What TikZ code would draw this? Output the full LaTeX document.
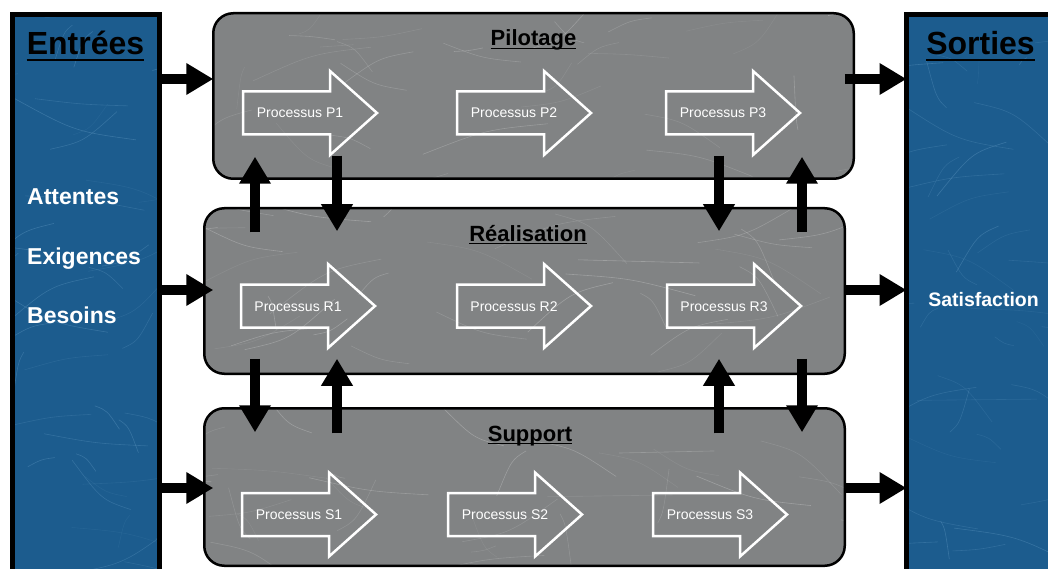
\documentclass[tikz,border=0pt]{standalone}
\usepackage{fontspec}
\setmainfont{Liberation Sans}
\usetikzlibrary{arrows.meta,calc}

\definecolor{panelblue}{RGB}{28,92,142}
\definecolor{slate}{RGB}{129,131,132}
\definecolor{frost}{RGB}{150,200,235}

% faint random scratches inside a region: x0, y0, width, height, count, seed, colour
\newcommand\drawscratches[7]{%
  \pgfmathsetseed{#6}%
  \foreach \k in {1,...,#5}{%
    \pgfmathsetmacro\xa{#1+#3*rnd}%
    \pgfmathsetmacro\ya{#2+#4*rnd}%
    \pgfmathsetmacro\dx{(rnd-0.5)*260}%
    \pgfmathsetmacro\dy{(rnd-0.5)*110}%
    \pgfmathsetmacro\op{0.06+0.18*rnd}%
    \draw[#7, line width=0.6pt, opacity=\op] (\xa,\ya) .. controls ($(\xa,\ya)+(0.5*\dx,0.2*\dy)$) .. ++(\dx,\dy);
  }}

% underline a text node: node name, depth below baseline, thickness
\newcommand\underlinenode[3]{%
  \draw[line width=#3] ([yshift=-#2]#1.base west) -- ([yshift=-#2]#1.base east);}

\begin{document}
\begin{tikzpicture}[x=1pt,y=-1pt,
  panel/.style={rectangle, fill=panelblue, draw=none, outer sep=0pt, inner sep=0pt, anchor=north west},
  stage/.style={rectangle, rounded corners=20pt, fill=slate, draw=none, outer sep=0pt, inner sep=0pt, anchor=north west, minimum width=640.5pt},
  stageframe/.style={draw=black, line width=2.5pt, rounded corners=20pt},
  panelframe/.style={draw=black, line width=5pt},
  fat/.style={draw=black, line width=10pt, -{Triangle[width=30pt,length=27pt]}},
  bigtitle/.style={font=\bfseries\fontsize{32}{36}\selectfont, inner sep=0pt, anchor=base},
  stagetitle/.style={font=\bfseries\fontsize{22}{26}\selectfont, inner sep=0pt, anchor=base},
  need/.style={font=\bfseries\fontsize{23}{27}\selectfont, text=white, inner sep=0pt, anchor=base west},
  result/.style={font=\bfseries\fontsize{19.5}{23}\selectfont, text=white, inner sep=0pt, anchor=base},
  proclabel/.style={font=\fontsize{14}{16}\selectfont, text=white, inner sep=0pt, anchor=base},
  procarrow/.pic={
    \draw[white, line width=2.5pt, line join=miter]
      (0,-21.5) -- (87,-21.5) -- (87,-42) -- (134,0) -- (87,42) -- (87,21.5) -- (0,21.5) -- cycle;
    \node[proclabel] (-lbl) at (57,5) {#1};
  }]
\useasboundingbox (0,0) rectangle (1048,569);
\clip (0,0) rectangle (1048,569);

% input and output panels
\node[panel, minimum width=147pt, minimum height=600pt] (in) at (12.5,14.5) {};
\node[panel, minimum width=200pt, minimum height=600pt] (out) at (906.5,14.5) {};
\begin{scope}
  \clip (in.north west) rectangle (in.south east);
  \drawscratches{12}{14}{148}{560}{40}{3}{frost}
\end{scope}
\begin{scope}
  \clip (out.north west) rectangle (out.south east);
  \drawscratches{906}{14}{150}{560}{40}{5}{frost}
\end{scope}
\draw[panelframe] (in.north west) rectangle (in.south east);
\draw[panelframe] (out.north west) rectangle (out.south east);

% the three process stages
\node[stage, minimum height=165.5pt] (pil) at (213.25,13.25) {};
\node[stage, minimum height=165.5pt] (rea) at (204.25,208.25) {};
\node[stage, minimum height=157.5pt] (sup) at (204.25,408.25) {};
\begin{scope}
  \clip[rounded corners=20pt] (pil.north west) rectangle (pil.south east);
  \drawscratches{213}{13}{641}{166}{32}{11}{white}
\end{scope}
\begin{scope}
  \clip[rounded corners=20pt] (rea.north west) rectangle (rea.south east);
  \drawscratches{204}{208}{641}{166}{32}{17}{white}
\end{scope}
\begin{scope}
  \clip[rounded corners=20pt] (sup.north west) rectangle (sup.south east);
  \drawscratches{204}{408}{641}{158}{32}{23}{white}
\end{scope}
\draw[stageframe] (pil.north west) rectangle (pil.south east);
\draw[stageframe] (rea.north west) rectangle (rea.south east);
\draw[stageframe] (sup.north west) rectangle (sup.south east);

% headings
\node[bigtitle] (tin) at (85.5,55) {Entrées};
\node[bigtitle] (tout) at (980.5,55) {Sorties};
\underlinenode{tin}{5.5pt}{2pt}
\underlinenode{tout}{5.5pt}{2pt}
\node[stagetitle] (tpil) at (533.5,46) {Pilotage};
\node[stagetitle] (trea) at (528,241) {Réalisation};
\node[stagetitle] (tsup) at (530,441) {Support};
\underlinenode{tpil}{2.5pt}{1.5pt}
\underlinenode{trea}{2.5pt}{1.5pt}
\underlinenode{tsup}{2.5pt}{1.5pt}

% panel contents
\node[need] (n1) at (27,205) {Attentes};
\node[need] (n2) at (27,264) {Exigences};
\node[need] (n3) at (27,323) {Besoins};
\node[result] (r1) at (983.5,306) {Satisfaction};

% processes
\pic (p1) at (243,113) {procarrow=Processus P1};
\pic (p2) at (457,113) {procarrow=Processus P2};
\pic (p3) at (666,113) {procarrow=Processus P3};
\pic (r1) at (241,306) {procarrow=Processus R1};
\pic (r2) at (457,306) {procarrow=Processus R2};
\pic (r3) at (667,306) {procarrow=Processus R3};
\pic (s1) at (242,514.5) {procarrow=Processus S1};
\pic (s2) at (448,514.5) {procarrow=Processus S2};
\pic (s3) at (653,514.5) {procarrow=Processus S3};

% rows and columns of the flow arrows
\coordinate (ya) at (0,79);
\coordinate (yb) at (0,290);
\coordinate (yc) at (0,488);
\coordinate (ca) at (255,0);
\coordinate (cb) at (337,0);
\coordinate (cc) at (719,0);
\coordinate (cd) at (802,0);

% inputs into the stages (all tips on one vertical), stages into outputs
\draw[fat] (in.east |- ya) -- (pil.west |- ya);
\draw[fat] (in.east |- yb) -- (pil.west |- yb);
\draw[fat] (in.east |- yc) -- (pil.west |- yc);
\draw[fat] (rea.east |- ya) -- (out.west |- ya);
\draw[fat] (rea.east |- yb) -- (out.west |- yb);
\draw[fat] (sup.east |- yc) -- (out.west |- yc);

% exchanges between Pilotage and Realisation
\draw[fat] ($(ca |- rea.north)+(0,24)$) -- ($(ca |- pil.south)+(0,-22)$);
\draw[fat] ($(cb |- pil.south)+(0,-23)$) -- ($(cb |- rea.north)+(0,23)$);
\draw[fat] ($(cc |- pil.south)+(0,-23)$) -- ($(cc |- rea.north)+(0,23)$);
\draw[fat] ($(cd |- rea.north)+(0,24)$) -- ($(cd |- pil.south)+(0,-22)$);

% exchanges between Realisation and Support
\draw[fat] ($(ca |- rea.south)+(0,-15)$) -- ($(ca |- sup.north)+(0,24)$);
\draw[fat] ($(cb |- sup.north)+(0,25)$) -- ($(cb |- rea.south)+(0,-15)$);
\draw[fat] ($(cc |- sup.north)+(0,25)$) -- ($(cc |- rea.south)+(0,-15)$);
\draw[fat] ($(cd |- rea.south)+(0,-15)$) -- ($(cd |- sup.north)+(0,24)$);
\end{tikzpicture}
\end{document}
